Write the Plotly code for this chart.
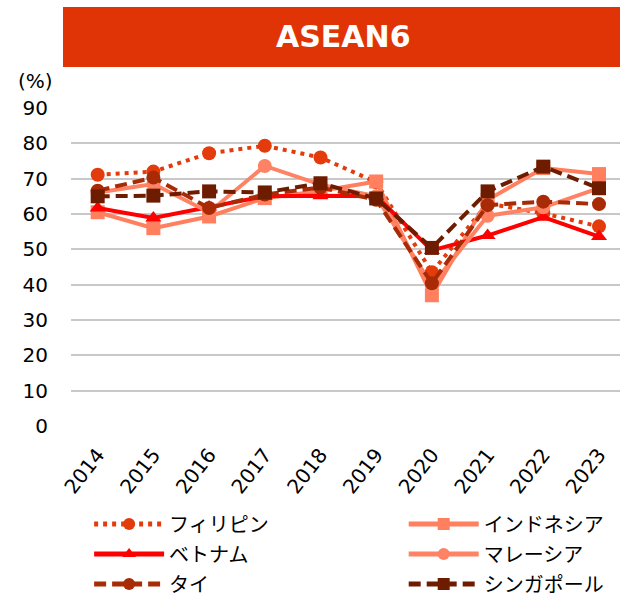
import plotly.graph_objects as go

years = ["2014", "2015", "2016", "2017", "2018", "2019", "2020", "2021", "2022", "2023"]

philippines = [71.1, 72.0, 77.2, 79.3, 76.0, 69.0, 43.5, 63.0, 60.2, 56.5]
indonesia = [60.5, 56.0, 59.3, 64.5, 66.5, 69.2, 37.0, 64.0, 73.0, 71.3]
vietnam = [61.7, 58.9, 62.0, 65.0, 65.2, 65.0, 49.7, 53.9, 59.1, 53.6]
malaysia = [66.1, 68.5, 60.5, 73.6, 68.3, 65.0, 39.8, 59.5, 61.9, 67.3]
thailand = [66.6, 70.3, 61.7, 65.5, 67.5, 64.0, 40.4, 62.5, 63.5, 62.8]
singapore = [65.0, 65.2, 66.4, 66.1, 68.7, 64.4, 50.4, 66.4, 73.4, 67.3]

names = ["フィリピン", "インドネシア", "ベトナム", "マレーシア", "タイ", "シンガポール"]
values = [philippines, indonesia, vietnam, malaysia, thailand, singapore]
colors = ["#E33B0B", "#FF7F5E", "#FF0000", "#FF8264", "#A82B06", "#6E1C00"]
dashes = ["4px,5px", "solid", "solid", "solid", "12px,6px", "12px,6px"]
symbols = ["circle", "square", "triangle-up", "circle", "circle", "square"]
legends = ["legend", "legend2", "legend", "legend2", "legend", "legend2"]

fig = go.Figure()
for n, v, c, d, s, lg in zip(names, values, colors, dashes, symbols, legends):
    fig.add_trace(go.Scatter(
        x=years, y=v, name=n, mode="lines+markers",
        line=dict(color=c, width=4, dash=d),
        marker=dict(color=c, size=14, symbol=s),
        legend=lg, legendgroup=n,
    ))

font_main = "DejaVu Sans, Noto Sans CJK JP, sans-serif"

legend_common = dict(yanchor="top", orientation="v", itemwidth=70, tracegroupgap=1,
                     itemsizing="constant", xanchor="left",
                     font=dict(size=20, family=font_main), bgcolor="rgba(0,0,0,0)")

fig.update_layout(
    width=620, height=597,
    margin=dict(l=71, r=0, t=108, b=171, autoexpand=False),
    paper_bgcolor="white", plot_bgcolor="white",
    font=dict(family=font_main, size=20, color="#000000"),
    showlegend=True,
    legend=dict(x=0.033, y=-0.247, **legend_common),
    legend2=dict(x=0.606, y=-0.247, **legend_common),
    xaxis=dict(type="category", range=[-0.479, 9.377], showgrid=False,
               zeroline=False, showline=False, tickangle=-52,
               ticks="", ticklabelstandoff=12,
               tickfont=dict(size=20, family=font_main)),
    yaxis=dict(range=[0, 90], dtick=10, showgrid=True, gridcolor="#C8C8C8",
               gridwidth=1.5, zeroline=False, showline=False, ticks="",
               ticklabelstandoff=22, tickfont=dict(size=20, family=font_main)),
    shapes=[dict(type="rect", xref="paper", yref="paper",
                 x0=(63 - 71) / 549, x1=1.01, y0=(426 - 67) / 318, y1=(426 - 7) / 318,
                 fillcolor="#E13406", line=dict(width=0), layer="above")],
    annotations=[
        dict(text="<b>ASEAN6</b>", xref="paper", yref="paper",
             x=(343 - 71) / 549, y=(426 - 36) / 318, xanchor="center", yanchor="middle",
             showarrow=False, font=dict(size=30, color="white", family="DejaVu Sans")),
        dict(text="(%)", xref="paper", yref="paper",
             x=(35 - 71) / 549, y=(426 - 81) / 318, xanchor="center", yanchor="middle",
             showarrow=False, font=dict(size=20, color="#000000", family=font_main)),
    ],
)

fig.write_html("out.html", config={"displayModeBar": False},
               post_script="document.body.style.margin='0';")
